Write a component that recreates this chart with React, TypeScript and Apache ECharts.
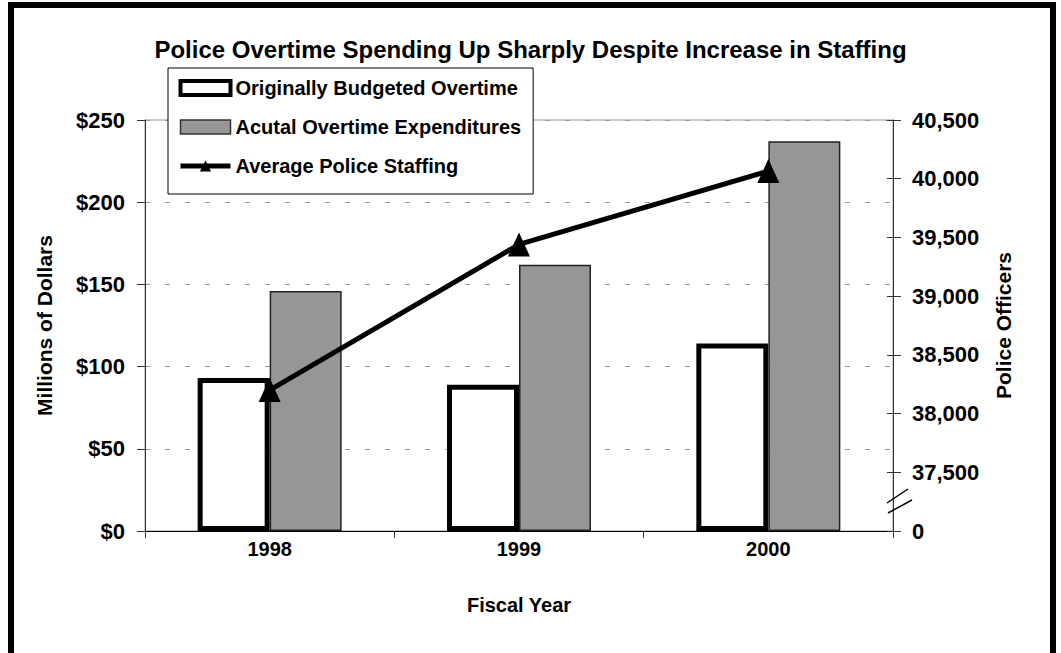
import React, { useEffect, useRef } from "react";
import * as echarts from "echarts";

const categories = ["1998", "1999", "2000"];
const budgetedOvertime = [93, 89, 114];
const actualOvertime = [146, 162, 237];
const policeStaffing = [38200, 39440, 40065];
const seriesNames = [
  "Originally Budgeted Overtime",
  "Acutal Overtime Expenditures",
  "Average Police Staffing",
];

const FONT = "'Liberation Sans', Arial, Helvetica, sans-serif";

export default function App() {
  const ref = useRef<HTMLDivElement>(null);
  useEffect(() => {
    if (!ref.current) return;
    const chart = echarts.init(ref.current, null, { renderer: "svg" });
    const gridLeft = 145;
    const gridRight = 893;
    const gridTop = 120;
    const gridBottom = 531;
    chart.setOption({
      animation: false,
      backgroundColor: "#fff",
      textStyle: { fontFamily: FONT },
      title: {
        text: "Police Overtime Spending Up Sharply Despite Increase in Staffing",
        left: "center",
        top: 32,
        textStyle: { fontFamily: FONT, fontSize: 24, fontWeight: "bold", color: "#000" },
      },
      legend: {
        orient: "vertical",
        left: 168,
        top: 68,
        padding: [10, 12, 18, 10],
        itemWidth: 50,
        itemHeight: 14,
        itemGap: 19,
        backgroundColor: "#fff",
        borderColor: "#000",
        borderWidth: 1,
        textStyle: { fontFamily: FONT, fontSize: 20, fontWeight: "bold", color: "#000", lineHeight: 18 },
        data: [
          { name: seriesNames[0], icon: "rect", itemStyle: { color: "#fff", borderColor: "#000", borderWidth: 4 } },
          { name: seriesNames[1], icon: "rect", itemStyle: { color: "#969696", borderColor: "#333", borderWidth: 1.5 } },
          { name: seriesNames[2], lineStyle: { color: "#000", width: 5 }, itemStyle: { color: "#000" } },
        ],
      },
      grid: {
        left: gridLeft,
        right: 1061 - gridRight,
        top: gridTop,
        bottom: 653 - gridBottom,
        show: true,
        borderColor: "#999",
        borderWidth: 1,
      },
      xAxis: {
        type: "category",
        data: categories,
        name: "Fiscal Year",
        nameLocation: "middle",
        nameGap: 64,
        nameTextStyle: { fontFamily: FONT, fontSize: 20, fontWeight: "bold", color: "#000" },
        axisLine: { lineStyle: { color: "#000", width: 1 } },
        axisTick: { show: true, length: 7, alignWithLabel: false, lineStyle: { color: "#333" } },
        axisLabel: { margin: 8, fontFamily: FONT, fontSize: 20, fontWeight: "bold", color: "#000" },
        splitLine: { show: false },
      },
      yAxis: [
        {
          type: "value",
          min: 0,
          max: 250,
          interval: 50,
          position: "left",
          name: "Millions of Dollars",
          nameLocation: "middle",
          nameRotate: 90,
          nameGap: 90,
          nameTextStyle: { fontFamily: FONT, fontSize: 21, fontWeight: "bold", color: "#000" },
          axisLine: { show: true, lineStyle: { color: "#333", width: 1 } },
          axisTick: { show: true, length: 8, lineStyle: { color: "#333" } },
          axisLabel: {
            margin: 20,
            fontFamily: FONT,
            fontSize: 22,
            fontWeight: "bold",
            color: "#000",
            formatter: (v: number) => "$" + v,
          },
          splitLine: { show: true, lineStyle: { color: "#999", type: [5, 15], width: 1 } },
        },
        {
          type: "value",
          min: 37000,
          max: 40500,
          interval: 500,
          position: "right",
          name: "Police Officers",
          nameLocation: "middle",
          nameRotate: 90,
          nameGap: 100,
          nameTextStyle: { fontFamily: FONT, fontSize: 21, fontWeight: "bold", color: "#000" },
          axisLine: { show: true, lineStyle: { color: "#333", width: 1 } },
          axisTick: { show: true, length: 8, lineStyle: { color: "#333" } },
          axisLabel: {
            margin: 19,
            fontFamily: FONT,
            fontSize: 22,
            fontWeight: "bold",
            color: "#000",
            formatter: (v: number) => (v === 37000 ? "0" : v.toLocaleString("en-US")),
          },
          splitLine: { show: false },
        },
        {
          type: "value",
          min: 37000,
          max: 40500,
          interval: 500,
          position: "right",
          axisLine: { show: false },
          axisTick: { show: true, inside: true, length: 6, lineStyle: { color: "#333" } },
          axisLabel: { show: false },
          splitLine: { show: false },
        },
      ],
      graphic: [
        {
          type: "rect",
          shape: { x: 11, y: 5, width: 1042, height: 670 },
          style: { fill: "none", stroke: "#000", lineWidth: 6 },
          silent: true,
          z: 100,
        },
        {
          type: "line",
          shape: { x1: 887, y1: 503, x2: 908, y2: 489 },
          style: { stroke: "#000", lineWidth: 1.5 },
          z: 100,
        },
        {
          type: "line",
          shape: { x1: 888, y1: 513, x2: 912, y2: 500 },
          style: { stroke: "#000", lineWidth: 1.5 },
          z: 100,
        },
      ],
      series: [
        {
          name: seriesNames[0],
          type: "bar",
          yAxisIndex: 0,
          data: budgetedOvertime,
          barWidth: 72,
          barGap: "0%",
          itemStyle: { color: "#fff", borderColor: "#000", borderWidth: 5 },
        },
        {
          name: seriesNames[1],
          type: "bar",
          yAxisIndex: 0,
          data: actualOvertime,
          barWidth: 72,
          barGap: "0%",
          itemStyle: { color: "#969696", borderColor: "#222", borderWidth: 1.5 },
        },
        {
          name: seriesNames[2],
          type: "line",
          yAxisIndex: 1,
          data: policeStaffing,
          symbol: "triangle",
          symbolSize: [22, 24],
          lineStyle: { color: "#000", width: 5 },
          itemStyle: { color: "#000" },
          z: 10,
        },
      ],
    });
    return () => chart.dispose();
  }, []);
  return (
    <div
      ref={ref}
      style={{ position: "fixed", left: 0, top: 0, width: 1061, height: 653 }}
    />
  );
}
